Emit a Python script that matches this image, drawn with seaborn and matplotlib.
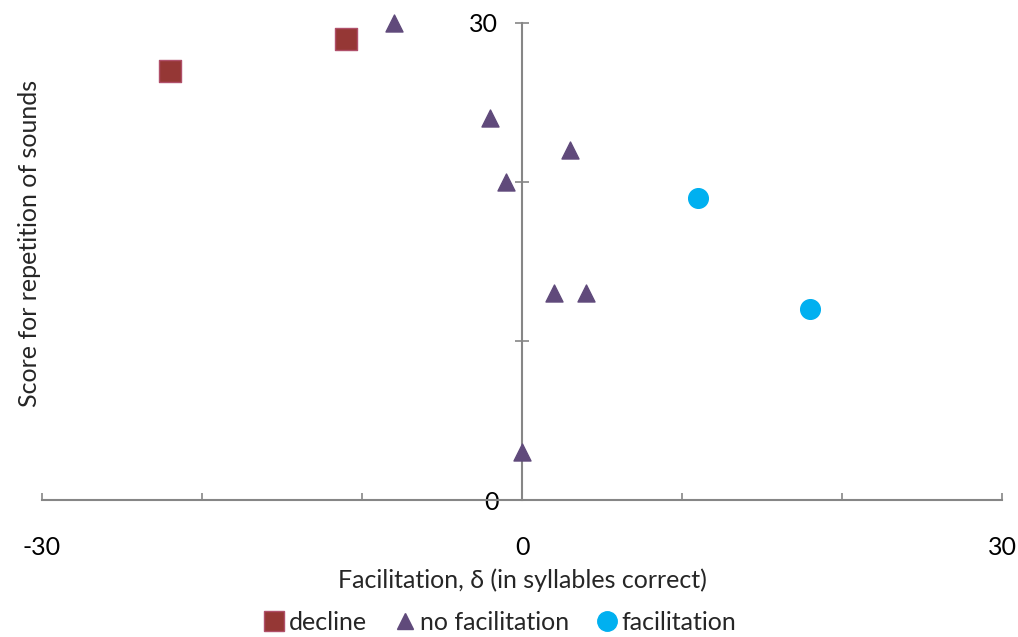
import matplotlib
matplotlib.use("Agg")
import matplotlib.pyplot as plt
import seaborn as sns
import pandas as pd
from matplotlib.lines import Line2D

sns.set_style("white")
plt.rcParams['font.family'] = ['Lato', 'DejaVu Sans']

groups = ["decline", "decline",
          "no facilitation", "no facilitation", "no facilitation", "no facilitation",
          "no facilitation", "no facilitation", "no facilitation",
          "facilitation", "facilitation"]
facilitation = [-22, -11, -8, -2, 3, -1, 2, 4, 0, 11, 18]
score = [27, 29, 30, 24, 22, 20, 13, 13, 3, 19, 12]

xticks = [-30, -20, -10, 0, 10, 20, 30]
xticklabels = ["-30", "", "", "0", "", "", "30"]
yticks = [0, 10, 20, 30]
yticklabels = ["0", "", "", "30"]

df = pd.DataFrame({"group": groups, "x": facilitation, "y": score})

palette = {"decline": "#953735", "no facilitation": "#604a7b", "facilitation": "#00b0f0"}
markers = {"decline": "s", "no facilitation": "^", "facilitation": "o"}
edges = {"decline": "#b0506a", "no facilitation": "#604a7b", "facilitation": "#00b0f0"}
sizes = {"decline": 230, "no facilitation": 150, "facilitation": 200}

fig = plt.figure(figsize=(10.18, 6.37), dpi=100)
ax = fig.add_axes([42/1018, 1-500/637, 960/1018, 477/637])

for g in ["decline", "no facilitation", "facilitation"]:
    sub = df[df.group == g]
    sns.scatterplot(data=sub, x="x", y="y", marker=markers[g], color=palette[g],
                    s=sizes[g], edgecolor=edges[g], linewidth=1, ax=ax, label=g,
                    legend=False, zorder=3, clip_on=False)

ax.set_xlim(-30, 30)
ax.set_ylim(0, 30)
gray = "#868686"
for s in ["top", "right"]:
    ax.spines[s].set_visible(False)
ax.spines["left"].set_position(("data", 0))
ax.spines["left"].set_color(gray)
ax.spines["bottom"].set_color(gray)
ax.spines["left"].set_linewidth(1.5)
ax.spines["bottom"].set_linewidth(1.5)

ax.set_xticks(xticks)
ax.set_xticklabels(xticklabels)
ax.set_yticks(yticks)
ax.set_yticklabels(yticklabels)
ax.tick_params(axis="x", direction="in", length=5, width=1.2, color=gray,
               pad=26, labelsize=18, labelcolor="black", bottom=True)
ax.tick_params(axis="y", direction="inout", length=10, width=1.2, color=gray,
               pad=12, labelsize=18, labelcolor="black", left=True)
ax.set_xlabel("")
ax.set_ylabel("")

fig.text(522/1018, 1-580/637, "Facilitation, δ (in syllables correct)",
         ha="center", va="center", fontsize=18)
fig.text(30/1018, 1-243/637, "Score for repetition of sounds",
         ha="center", va="center", rotation=90, fontsize=18)

handles = [Line2D([], [], linestyle="none", marker=markers[g], markersize=ms,
                  markerfacecolor=palette[g], markeredgecolor=edges[g])
           for g, ms in zip(["decline", "no facilitation", "facilitation"], [14, 11, 14])]
fig.legend(handles, ["decline", "no facilitation", "facilitation"],
           loc="center", bbox_to_anchor=(499/1018, 1-622/637), ncol=3,
           frameon=False, fontsize=18, handletextpad=0.1, columnspacing=1.0,
           handlelength=1.0)

fig.savefig("out.png", dpi=100)
